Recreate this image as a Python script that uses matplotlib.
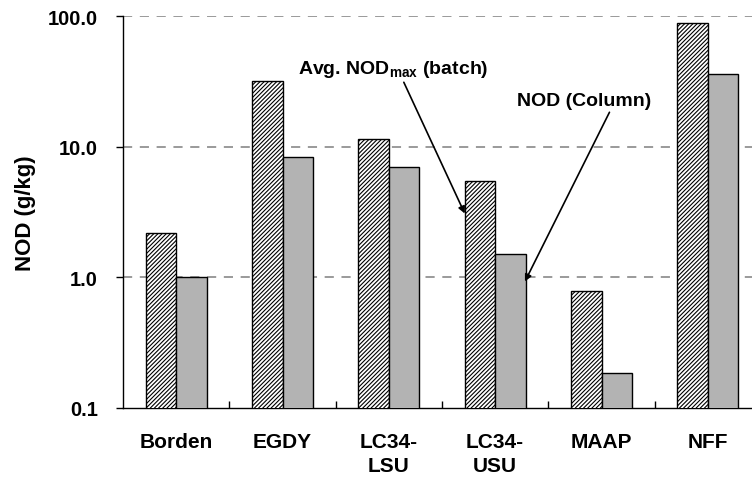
import matplotlib
matplotlib.use('Agg')
import matplotlib.pyplot as plt
import numpy as np

plt.rcParams['font.family'] = ['Liberation Sans', 'DejaVu Sans']
plt.rcParams['font.weight'] = 'bold'
plt.rcParams['mathtext.fontset'] = 'custom'
plt.rcParams['mathtext.rm'] = 'Liberation Sans:bold'
plt.rcParams['mathtext.bf'] = 'Liberation Sans:bold'
plt.rcParams['hatch.linewidth'] = 0.8
plt.rcParams['hatch.color'] = '#333333'

sites = ['Borden', 'EGDY', 'LC34-\nLSU', 'LC34-\nUSU', 'MAAP', 'NFF']
nod_batch = [2.17, 31.8, 11.4, 5.5, 0.78, 88.0]
nod_column = [1.0, 8.4, 7.0, 1.52, 0.185, 36.0]

x = np.arange(len(sites))
w = 0.286

fig = plt.figure(figsize=(7.52, 4.81), dpi=100)
ax = fig.add_axes([123/752, 72/481, 638/752, 392/481])

ax.bar(x - w/2, nod_batch, w, color='white', edgecolor='black',
       hatch='////////', linewidth=1, zorder=3)
ax.bar(x + w/2, nod_column, w, color='#b3b3b3', edgecolor='black',
       linewidth=1, zorder=3)

ax.set_yscale('log')
ax.set_ylim(0.1, 100)
ax.set_xlim(-0.5, len(sites) - 0.5)
ax.set_yticks([0.1, 1, 10, 100])
ax.set_yticklabels(['0.1', '1.0', '10.0', '100.0'], fontsize=14.5, fontweight='bold')
ax.yaxis.set_minor_locator(matplotlib.ticker.NullLocator())
ax.tick_params(axis='y', direction='out', length=5, width=1, pad=13)

for v in [1, 10, 100]:
    ax.axhline(v, color='#7f7f7f', linestyle=(0, (6, 5)), linewidth=1.1, zorder=1)

ax.set_xticks(x[:-1] + 0.5)
ax.set_xticklabels([])
ax.tick_params(axis='x', which='major', direction='in', length=5, width=1)
ax.set_xticks(x, minor=True)
ax.set_xticklabels(sites, minor=True, fontsize=15, fontweight='bold',
                   va='top', linespacing=1.38)
ax.tick_params(axis='x', which='minor', length=0, pad=17)

ax.spines['top'].set_visible(False)
ax.spines['right'].set_visible(False)
ax.spines['left'].set_linewidth(1)
ax.spines['bottom'].set_linewidth(1)

ax.set_ylabel('NOD (g/kg)', fontsize=16, fontweight='bold')
ax.yaxis.set_label_coords((36 - 123) / 638, 0.5)

ax.annotate(r'Avg. NOD$_{\mathbf{max}}$ (batch)', xy=(3 - w, 3.08),
            xytext=(393, 411), textcoords='figure pixels',
            ha='center', va='center', fontsize=14, fontweight='bold',
            arrowprops=dict(arrowstyle='-|>', color='black', lw=1.2,
                            mutation_scale=10, shrinkA=0, shrinkB=0,
                            relpos=(0.55, 0)))
ax.annotate('NOD (Column)', xy=(3.28, 0.93),
            xytext=(584, 379), textcoords='figure pixels',
            ha='center', va='center', fontsize=14, fontweight='bold',
            arrowprops=dict(arrowstyle='-|>', color='black', lw=1.2,
                            mutation_scale=10, shrinkA=0, shrinkB=0,
                            relpos=(0.7, 0)))

fig.savefig('out.png', dpi=100)
